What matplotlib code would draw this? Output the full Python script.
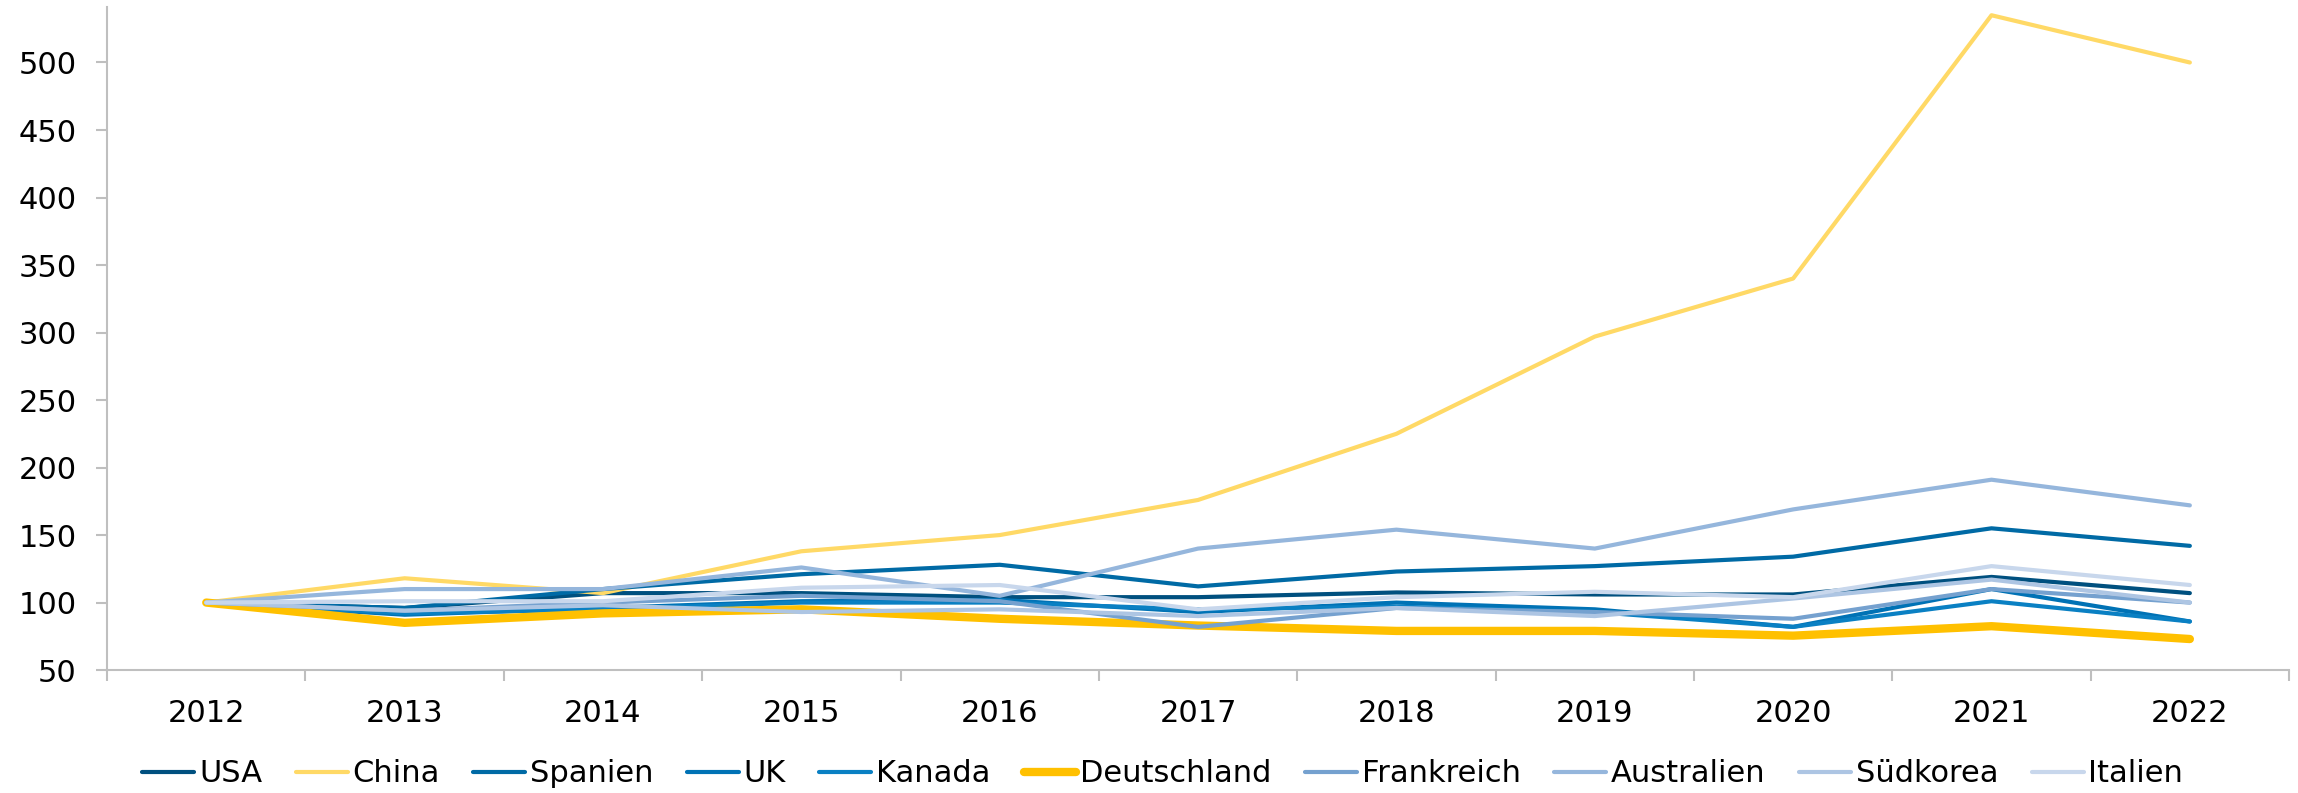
import numpy as np
import matplotlib
matplotlib.use('Agg')
import matplotlib.pyplot as plt

years = [2012, 2013, 2014, 2015, 2016, 2017, 2018, 2019, 2020, 2021, 2022]

usa         = [100, 96, 107, 107, 104, 104, 107.5, 106, 106, 119, 107]
china       = [100, 118, 107, 138, 150, 176, 225, 297, 340, 535, 500]
spanien     = [100, 96, 110, 121, 128, 112, 123, 127, 134, 155, 142]
uk          = [100, 91, 96, 101, 102, 93, 100, 95, 82, 110, 86]
kanada      = [100, 92, 95, 100, 100, 95, 97, 93, 82, 101, 86]
deutschland = [100, 85, 92, 95, 88, 83, 79, 79, 75.5, 82.5, 73]
frankreich  = [100, 94, 100, 105, 101, 82, 96, 93, 88, 110, 100]
australien  = [100, 110, 110, 126, 105, 140, 154, 140, 169, 191, 172]
suedkorea   = [100, 94, 98, 93, 95, 90, 96, 90, 103, 117, 100]
italien     = [100, 101, 101, 111, 113, 95, 104, 108, 104, 127, 113]

SERIES = [
    # (label, values, colour, linewidth)
    ('USA',         usa,         '#00507f', 3.0),
    ('China',       china,       '#ffd966', 3.0),
    ('Spanien',     spanien,     '#006aa5', 3.0),
    ('UK',          uk,          '#0072b5', 3.0),
    ('Kanada',      kanada,      '#0a80c3', 3.0),
    ('Deutschland', deutschland, '#ffc000', 6.0),
    ('Frankreich',  frankreich,  '#75a1cf', 3.0),
    ('Australien',  australien,  '#95b6dc', 3.0),
    ('Südkorea',    suedkorea,   '#adc5e3', 3.0),
    ('Italien',     italien,     '#c8d7ec', 3.0),
]

plt.rcParams.update({'font.family': 'DejaVu Sans', 'font.size': 22})
fig = plt.figure(figsize=(22.98, 7.93), dpi=100)
ax = fig.add_axes([0.0466, 0.155, 0.9495, 0.836])

x = np.arange(len(years))
for lbl, vals, col, lw in SERIES:
    ax.plot(x, vals, color=col, lw=lw, label=lbl,
            solid_capstyle='round', solid_joinstyle='round')

ax.set_xlim(-0.5, len(years) - 0.5)
ax.set_ylim(50, 541)
ax.set_yticks(np.arange(50, 501, 50))

# category boundaries get the tick marks, centres get the labels
ax.set_xticks(np.arange(len(years) + 1) - 0.5)
ax.set_xticklabels([])
ax.set_xticks(x, minor=True)
ax.set_xticklabels([str(y) for y in years], minor=True)

grey = '#bfbfbf'
for s in ('top', 'right'):
    ax.spines[s].set_visible(False)
for s in ('left', 'bottom'):
    ax.spines[s].set_color(grey)
    ax.spines[s].set_linewidth(1.5)

ax.tick_params(axis='y', which='major', length=8, width=1.5, color=grey, pad=14)
ax.tick_params(axis='x', which='major', length=8, width=1.5, color=grey)
ax.tick_params(axis='x', which='minor', length=0, pad=21)

fig.legend(loc='center', bbox_to_anchor=(0.506, 0.024), ncol=len(SERIES),
           frameon=False, handlelength=1.7, handletextpad=0.15,
           columnspacing=1.1, borderaxespad=0)

fig.savefig('out.png', dpi=100)
